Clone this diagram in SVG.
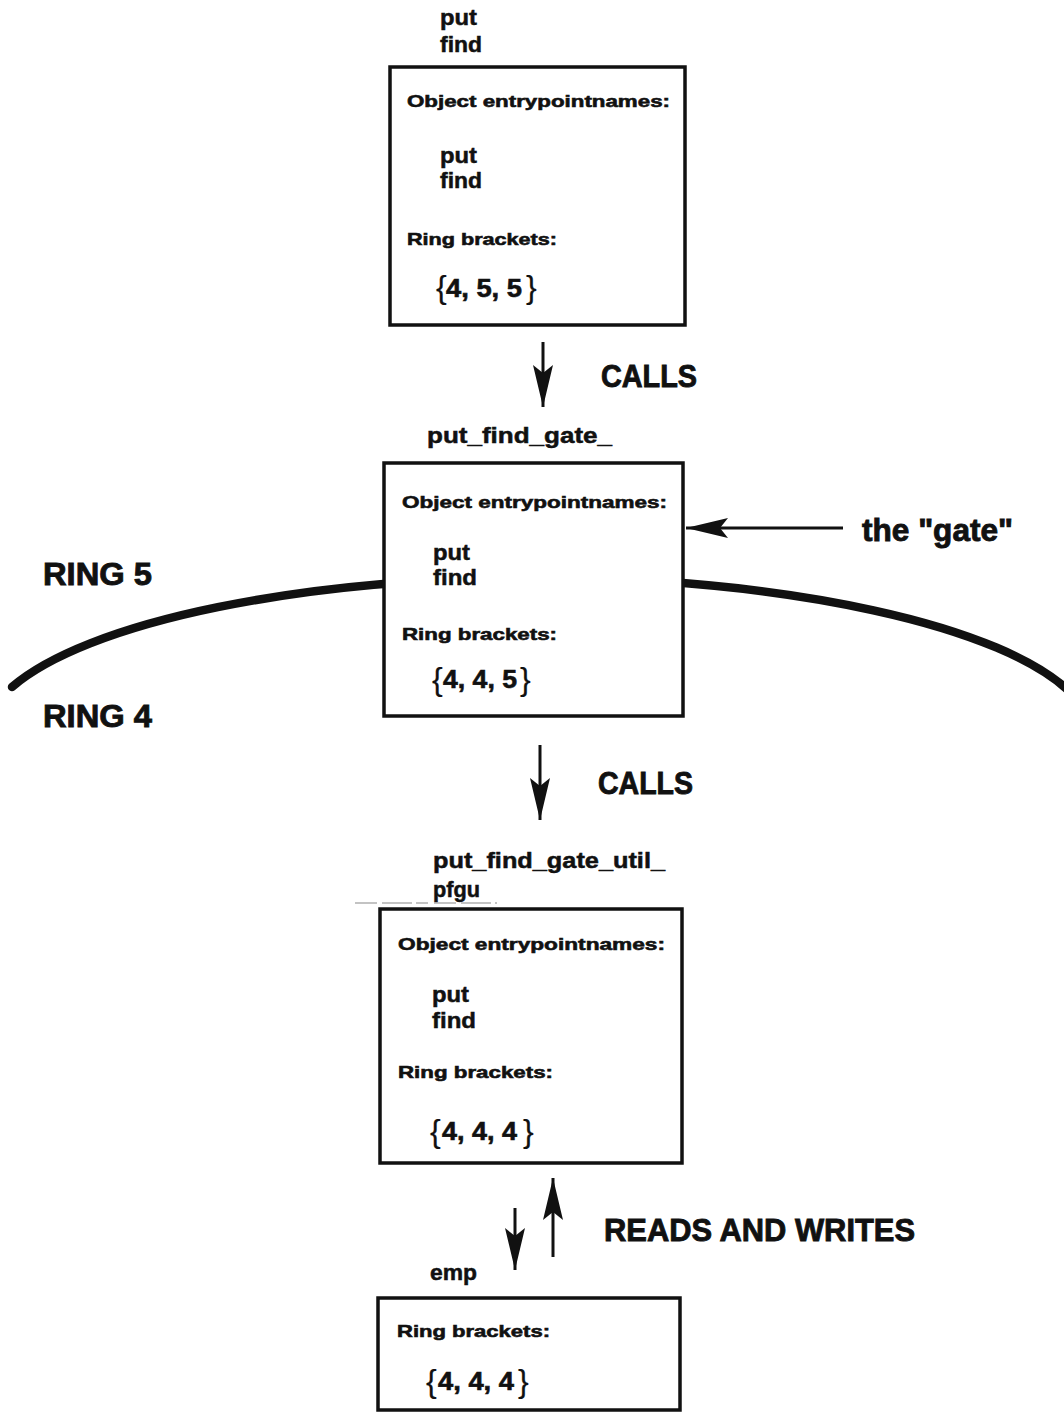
<svg xmlns="http://www.w3.org/2000/svg" width="1064" height="1416" viewBox="0 0 1064 1416">
  <style>
    text { font-family: "Liberation Sans", Arial, sans-serif; font-weight: bold; fill: #111; stroke: #111; stroke-width: 0.5; }
    .head { font-size: 17px; stroke-width: 0.6; }
    .name { font-size: 22px; stroke-width: 0.5; }
    .num { font-size: 25px; stroke-width: 0.6; }
    .brace { font-size: 32px; font-weight: normal; stroke-width: 0.2; }
    .big { font-size: 32px; stroke-width: 0.9; }
    .box { fill: #fff; stroke: #111; stroke-width: 3.5; }
    .shaft { stroke: #111; stroke-width: 3; fill: none; }
  </style>
  <defs>
    <marker id="arrowhead" markerUnits="userSpaceOnUse" markerWidth="44" markerHeight="22" refX="42" refY="10" orient="auto">
      <path d="M0,0 L42,10 L0,20 L8,10 Z" fill="#111"/>
    </marker>
  </defs>

  <rect width="1064" height="1416" fill="#fff"/>

  <!-- ring boundary between ring 5 (above) and ring 4 (below) -->
  <g id="ring-boundary">
    <path d="M12,687 A555,160 0 0 1 1070,692" fill="none" stroke="#111" stroke-width="8.5" stroke-linecap="round"/>
    <text class="big" x="43" y="585" textLength="109" lengthAdjust="spacingAndGlyphs">RING 5</text>
    <text class="big" x="43" y="727" textLength="109" lengthAdjust="spacingAndGlyphs">RING 4</text>
  </g>

  <!-- connectors -->
  <g id="connectors">
    <line class="shaft" x1="543" y1="342" x2="543" y2="407" marker-end="url(#arrowhead)"/>
    <text class="big" x="601" y="387" textLength="96" lengthAdjust="spacingAndGlyphs">CALLS</text>

    <line class="shaft" x1="843" y1="528" x2="686" y2="528" stroke-width="4.5" marker-end="url(#arrowhead)"/>
    <text class="big" x="862" y="541" font-size="35" textLength="151" lengthAdjust="spacingAndGlyphs">the "gate"</text>

    <line class="shaft" x1="540" y1="745" x2="540" y2="820" marker-end="url(#arrowhead)"/>
    <text class="big" x="598" y="794" textLength="95" lengthAdjust="spacingAndGlyphs">CALLS</text>

    <line class="shaft" x1="515" y1="1208" x2="515" y2="1270" marker-end="url(#arrowhead)"/>
    <line class="shaft" x1="553" y1="1257" x2="553" y2="1178" marker-end="url(#arrowhead)"/>
    <text class="big" x="604" y="1241" font-size="33" textLength="311" lengthAdjust="spacingAndGlyphs">READS AND WRITES</text>
  </g>

  <!-- caller procedure in ring 5 -->
  <g id="caller">
    <text class="name" x="440" y="25" textLength="37" lengthAdjust="spacingAndGlyphs">put</text>
    <text class="name" x="440" y="52" textLength="42" lengthAdjust="spacingAndGlyphs">find</text>
    <rect class="box" x="390" y="67" width="295" height="258"/>
    <text class="head" x="407" y="107" textLength="263" lengthAdjust="spacingAndGlyphs">Object entrypointnames:</text>
    <text class="name" x="440" y="163" textLength="37" lengthAdjust="spacingAndGlyphs">put</text>
    <text class="name" x="440" y="188" textLength="42" lengthAdjust="spacingAndGlyphs">find</text>
    <text class="head" x="407" y="245" textLength="150" lengthAdjust="spacingAndGlyphs">Ring brackets:</text>
    <text class="brace" x="436" y="298">{</text>
    <text class="num" x="446" y="297" textLength="76" lengthAdjust="spacingAndGlyphs">4, 5, 5</text>
    <text class="brace" x="526" y="298">}</text>
  </g>

  <!-- gate segment -->
  <g id="gate">
    <text class="name" x="427" y="443" textLength="185" lengthAdjust="spacingAndGlyphs">put_find_gate_</text>
    <rect class="box" x="384" y="463" width="299" height="253"/>
    <text class="head" x="402" y="508" textLength="265" lengthAdjust="spacingAndGlyphs">Object entrypointnames:</text>
    <text class="name" x="433" y="560" textLength="37" lengthAdjust="spacingAndGlyphs">put</text>
    <text class="name" x="433" y="585" textLength="44" lengthAdjust="spacingAndGlyphs">find</text>
    <text class="head" x="402" y="640" textLength="155" lengthAdjust="spacingAndGlyphs">Ring brackets:</text>
    <text class="brace" x="432" y="690">{</text>
    <text class="num" x="443" y="688" textLength="74" lengthAdjust="spacingAndGlyphs">4, 4, 5</text>
    <text class="brace" x="520" y="690">}</text>
  </g>

  <!-- utility segment in ring 4 -->
  <g id="utility">
    <text class="name" x="433" y="868" textLength="232" lengthAdjust="spacingAndGlyphs">put_find_gate_util_</text>
    <text class="name" x="433" y="897" textLength="47" lengthAdjust="spacingAndGlyphs">pfgu</text>
    <line x1="355" y1="903" x2="497" y2="903" stroke="#888" stroke-width="1.2" stroke-dasharray="22 5 30 4 12 6"/>
    <rect class="box" x="380" y="909" width="302" height="254"/>
    <text class="head" x="398" y="950" textLength="267" lengthAdjust="spacingAndGlyphs">Object entrypointnames:</text>
    <text class="name" x="432" y="1002" textLength="37" lengthAdjust="spacingAndGlyphs">put</text>
    <text class="name" x="432" y="1028" textLength="44" lengthAdjust="spacingAndGlyphs">find</text>
    <text class="head" x="398" y="1078" textLength="155" lengthAdjust="spacingAndGlyphs">Ring brackets:</text>
    <text class="brace" x="430" y="1142">{</text>
    <text class="num" x="442" y="1140" textLength="75" lengthAdjust="spacingAndGlyphs">4, 4, 4</text>
    <text class="brace" x="523" y="1142">}</text>
  </g>

  <!-- data segment -->
  <g id="emp">
    <text class="name" x="430" y="1280" textLength="47" lengthAdjust="spacingAndGlyphs">emp</text>
    <rect class="box" x="378" y="1298" width="302" height="112"/>
    <text class="head" x="397" y="1337" textLength="153" lengthAdjust="spacingAndGlyphs">Ring brackets:</text>
    <text class="brace" x="426" y="1392">{</text>
    <text class="num" x="438" y="1390" textLength="76" lengthAdjust="spacingAndGlyphs">4, 4, 4</text>
    <text class="brace" x="518" y="1392">}</text>
  </g>
</svg>
